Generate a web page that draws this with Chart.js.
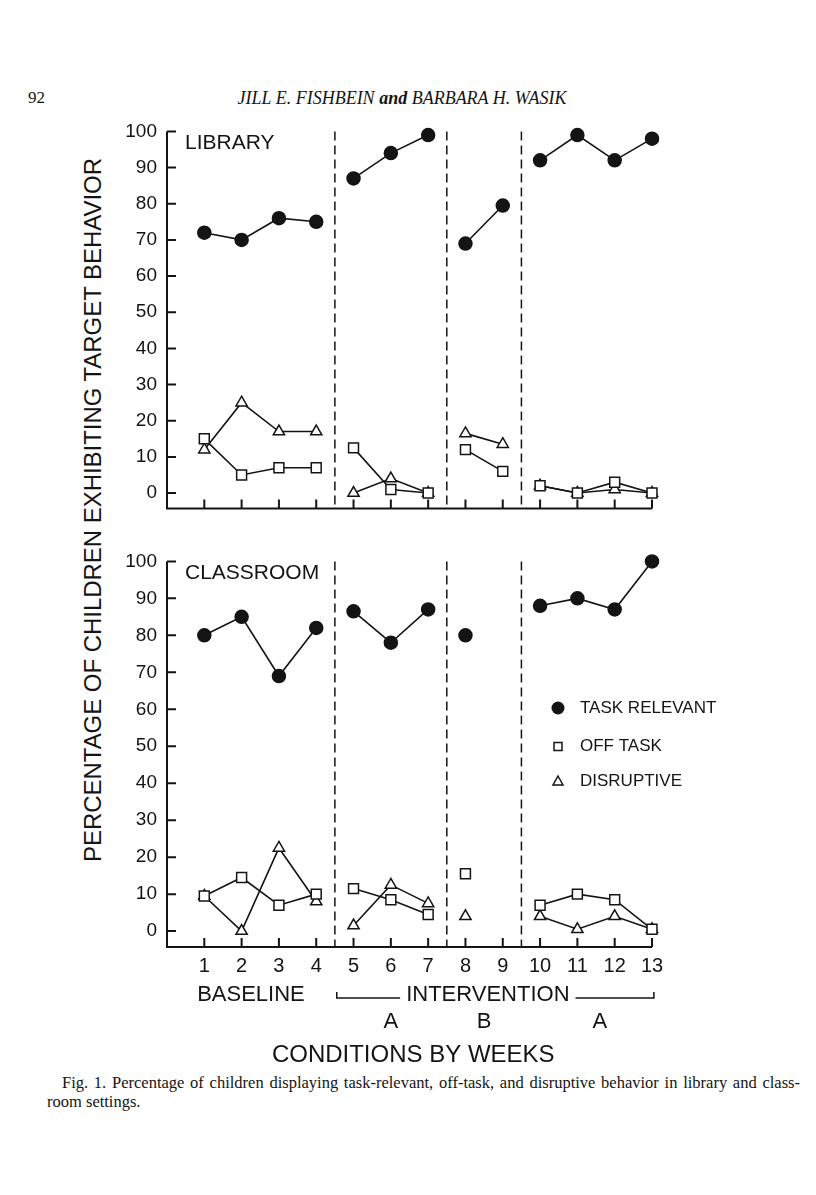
<!DOCTYPE html>
<html>
<head>
<meta charset="utf-8">
<script src="https://cdn.jsdelivr.net/npm/chart.js@4.4.1/dist/chart.umd.min.js"></script>
<style>
  body { margin: 0; background: #fff; width: 816px; height: 1195px; position: relative; overflow: hidden; color: #141414; }
  .abs { position: absolute; white-space: nowrap; }
  #pageNo { left: 28px; top: 88px; font: 17px "Liberation Serif", serif; }
  #runHead { left: 402px; top: 88px; transform: translateX(-50%); font: italic 18px "Liberation Serif", serif; }
  #yTitle { left: 93px; top: 510px; transform: translate(-50%, -50%) rotate(-90deg); font: 24px "Liberation Sans", sans-serif; }
  #cap1 { left: 62px; top: 1073px; width: 738px; font: 16.5px "Liberation Serif", serif; text-align: justify; text-align-last: justify; }
  #cap2 { left: 47px; top: 1092px; font: 16.5px "Liberation Serif", serif; }
  canvas { position: absolute; }
</style>
</head>
<body>
<div id="pageNo" class="abs">92</div>
<div id="runHead" class="abs">JILL E. FISHBEIN <b>and</b> BARBARA H. WASIK</div>
<div id="yTitle" class="abs">PERCENTAGE OF CHILDREN EXHIBITING TARGET BEHAVIOR</div>
<canvas id="library" width="720" height="420" style="left:60px; top:110px;"></canvas>
<canvas id="classroom" width="720" height="530" style="left:60px; top:540px;"></canvas>
<div id="cap1" class="abs">Fig. 1. Percentage of children displaying task-relevant, off-task, and disruptive behavior in library and class-</div>
<div id="cap2" class="abs">room settings.</div>

<script>
// weeks and phases
const weeks = [1, 2, 3, 4, 5, 6, 7, 8, 9, 10, 11, 12, 13];
const phaseOf = [0, 0, 0, 0, 1, 1, 1, 2, 2, 3, 3, 3, 3];
const phaseBreaks = [4.5, 7.5, 9.5];
const yTickValues = [0, 10, 20, 30, 40, 50, 60, 70, 80, 90, 100];
const seriesNames = ['TASK RELEVANT', 'OFF TASK', 'DISRUPTIVE'];
const phaseNames = ['BASELINE', 'INTERVENTION', 'A', 'B', 'A'];

// library
const libraryTask = [72, 70, 76, 75, 87, 94, 99, 69, 79.5, 92, 99, 92, 98];
const libraryOff = [15, 5, 7, 7, 12.5, 1, 0, 12, 6, 2, 0, 3, 0];
const libraryDis = [12, 25, 17, 17, 0, 4, 0, 16.5, 13.5, 2, 0, 1, 0];

// classroom
const classTask = [80, 85, 69, 82, 86.5, 78, 87, 80, null, 88, 90, 87, 100];
const classOff = [9.5, 14.5, 7, 10, 11.5, 8.5, 4.5, 15.5, null, 7, 10, 8.5, 0.5];
const classDis = [9.5, 0, 22.5, 8, 1.5, 12.5, 7.5, 4, null, 4, 0.5, 4, 0.5];

const INK = '#141414';
const SANS = '"Liberation Sans", Arial, sans-serif';

function dataset(label, values, style) {
  const filled = style === 'circle';
  return {
    label: label,
    data: values,
    borderColor: INK,
    borderWidth: 1.6,
    pointStyle: style,
    pointRadius: style === 'rect' ? 7 : 6.5,
    pointBorderWidth: 1.5,
    pointBorderColor: INK,
    pointBackgroundColor: filled ? INK : '#fff',
    spanGaps: false,
    clip: false,
    segment: {
      borderColor: c => phaseOf[c.p0DataIndex] === phaseOf[c.p1DataIndex] ? INK : 'rgba(0,0,0,0)'
    }
  };
}

// axes with inward ticks, dashed phase lines, panel name
const framePlugin = {
  id: 'frame',
  beforeDatasetsDraw(chart, args, opts) {
    const { ctx, chartArea: a, scales: { x, y } } = chart;
    ctx.save();
    ctx.strokeStyle = INK;
    ctx.lineWidth = 2;
    ctx.beginPath();
    ctx.moveTo(a.left, y.getPixelForValue(100));
    ctx.lineTo(a.left, a.bottom);
    ctx.lineTo(x.getPixelForValue(13), a.bottom);
    yTickValues.forEach(v => {
      const py = y.getPixelForValue(v);
      ctx.moveTo(a.left, py);
      ctx.lineTo(a.left + 9, py);
    });
    weeks.forEach(w => {
      const px = x.getPixelForValue(w);
      ctx.moveTo(px, a.bottom);
      ctx.lineTo(px, a.bottom - 9);
    });
    ctx.stroke();

    ctx.lineWidth = 1.5;
    ctx.setLineDash([9, 5]);
    ctx.beginPath();
    phaseBreaks.forEach(b => {
      const px = x.getPixelForValue(b);
      ctx.moveTo(px, a.top);
      ctx.lineTo(px, a.bottom);
    });
    ctx.stroke();
    ctx.setLineDash([]);

    ctx.fillStyle = INK;
    ctx.font = '21px ' + SANS;
    ctx.textBaseline = 'middle';
    ctx.textAlign = 'left';
    ctx.fillText(opts.name, a.left + 18, y.getPixelForValue(96.7));
    ctx.restore();
  }
};

// week labels, condition labels and legend under the classroom panel
const bottomPlugin = {
  id: 'bottom',
  afterDraw(chart, args, opts) {
    if (!opts.show) return;
    const { ctx, chartArea: a, scales: { x } } = chart;
    ctx.save();
    ctx.fillStyle = INK;
    ctx.strokeStyle = INK;
    ctx.textBaseline = 'middle';
    ctx.textAlign = 'center';

    ctx.font = '20px ' + SANS;
    weeks.forEach(w => ctx.fillText(String(w), x.getPixelForValue(w), a.bottom + 19));

    ctx.font = '22px ' + SANS;
    const rowY = a.bottom + 48;
    ctx.fillText(phaseNames[0], x.getPixelForValue(2.25), rowY);
    const midX = x.getPixelForValue(8.6);
    ctx.fillText(phaseNames[1], midX, rowY);
    const half = ctx.measureText(phaseNames[1]).width / 2 + 6;
    const lineY = rowY + 3;
    ctx.lineWidth = 1.5;
    ctx.beginPath();
    ctx.moveTo(x.getPixelForValue(4.55), lineY - 6);
    ctx.lineTo(x.getPixelForValue(4.55), lineY);
    ctx.lineTo(midX - half, lineY);
    ctx.moveTo(midX + half, lineY);
    ctx.lineTo(x.getPixelForValue(13.05), lineY);
    ctx.lineTo(x.getPixelForValue(13.05), lineY - 6);
    ctx.stroke();

    const subY = a.bottom + 75;
    [6, 8.5, 11.6].forEach((p, i) => ctx.fillText(phaseNames[2 + i], x.getPixelForValue(p), subY));

    ctx.font = '24px ' + SANS;
    ctx.fillText('CONDITIONS BY WEEKS', x.getPixelForValue(6.6), a.bottom + 108);

    // legend
    const lx = 498, rows = [168, 206.5, 241];
    ctx.font = '17px ' + SANS;
    ctx.textAlign = 'left';
    seriesNames.forEach((n, i) => ctx.fillText(n, lx + 22, rows[i]));
    ctx.lineWidth = 1.5;
    ctx.beginPath();
    ctx.arc(lx, rows[0], 6.5, 0, Math.PI * 2);
    ctx.fill();
    ctx.strokeRect(lx - 4, rows[1] - 4, 8, 8);
    ctx.beginPath();
    ctx.moveTo(lx, rows[2] - 5);
    ctx.lineTo(lx + 5, rows[2] + 4);
    ctx.lineTo(lx - 5, rows[2] + 4);
    ctx.closePath();
    ctx.stroke();
    ctx.restore();
  }
};

function makePanel(id, name, task, off, dis, withBottom) {
  return new Chart(document.getElementById(id), {
    type: 'line',
    data: {
      labels: weeks,
      datasets: [
        dataset(seriesNames[0], task, 'circle'),
        dataset(seriesNames[1], off, 'rect'),
        dataset(seriesNames[2], dis, 'triangle')
      ]
    },
    options: {
      responsive: false,
      animation: false,
      devicePixelRatio: 1,
      layout: { padding: { top: withBottom ? 17 : 15, right: 128, bottom: withBottom ? 0 : 13, left: 0 } },
      plugins: {
        legend: { display: false },
        tooltip: { enabled: false },
        frame: { name: name },
        bottom: { show: withBottom }
      },
      scales: {
        x: {
          type: 'linear', min: 0, max: 13,
          grid: { display: false, drawTicks: false },
          border: { display: false },
          ticks: { display: false },
          afterBuildTicks: s => { s.ticks = weeks.map(v => ({ value: v })); },
          afterFit: s => { s.height = withBottom ? 123 : 0; }
        },
        y: {
          min: -4.3, max: 100,
          grid: { display: false, drawTicks: false },
          border: { display: false },
          ticks: { padding: 10, color: INK, font: { family: SANS, size: 19 } },
          afterBuildTicks: s => { s.ticks = yTickValues.map(v => ({ value: v })); },
          afterFit: s => { s.width = 107; }
        }
      }
    },
    plugins: [framePlugin, bottomPlugin]
  });
}

makePanel('library', 'LIBRARY', libraryTask, libraryOff, libraryDis, false);
makePanel('classroom', 'CLASSROOM', classTask, classOff, classDis, true);

// stretch the axis title to the length it has on the page
const yt = document.getElementById('yTitle');
const txt = yt.textContent;
const w0 = yt.offsetWidth;
yt.style.letterSpacing = ((704 - w0) / (txt.length - 1)).toFixed(2) + 'px';
</script>
</body>
</html>
